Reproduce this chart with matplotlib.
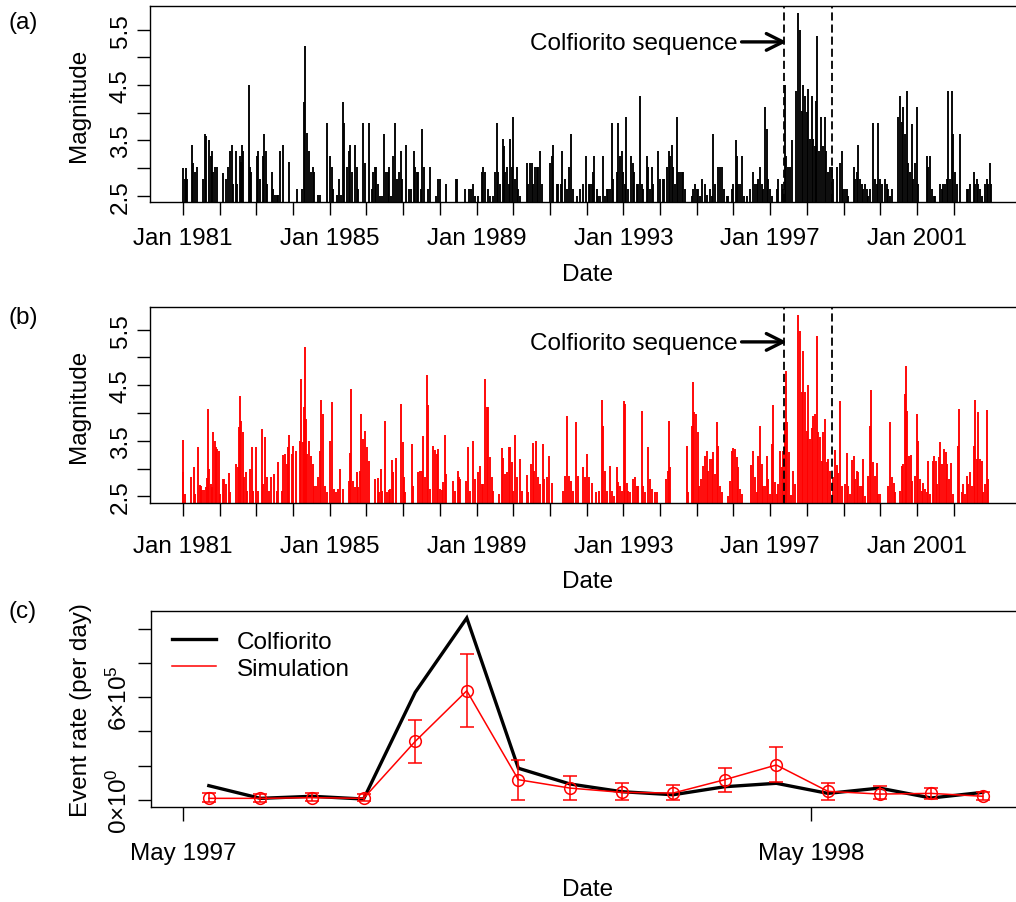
import matplotlib
matplotlib.use('Agg')
import matplotlib.pyplot as plt
import matplotlib.dates as mdates
from datetime import date

plt.rcParams['font.family'] = ['Liberation Sans', 'DejaVu Sans']
plt.rcParams['mathtext.fontset'] = 'custom'
plt.rcParams['mathtext.rm'] = 'Liberation Sans'
plt.rcParams['mathtext.it'] = 'Liberation Sans:italic'
FS = 17.5

# ---------------- data: panel (a) observed catalogue (decimal year, magnitude)
obs_1981_1986 = [
    (1981.00, 3.00), (1981.05, 2.80), (1981.08, 3.00), (1981.12, 2.80), (1981.25, 3.42),
    (1981.28, 3.10), (1981.34, 2.92), (1981.37, 3.01), (1981.55, 2.80), (1981.60, 3.61),
    (1981.63, 3.58), (1981.72, 3.51), (1981.76, 3.22), (1981.80, 3.31), (1981.83, 2.92),
    (1981.87, 3.01), (1981.92, 3.01), (1982.10, 2.91), (1982.17, 2.80), (1982.23, 3.01),
    (1982.28, 3.31), (1982.33, 3.42), (1982.37, 2.71), (1982.44, 3.31), (1982.48, 2.71),
    (1982.54, 3.22), (1982.57, 3.11), (1982.62, 3.42), (1982.64, 3.31), (1982.79, 4.50),
    (1982.83, 3.01), (1982.86, 2.92), (1983.01, 3.22), (1983.05, 3.31), (1983.10, 2.80),
    (1983.19, 3.22), (1983.22, 3.61), (1983.26, 3.31), (1983.30, 2.71), (1983.42, 2.92),
    (1983.46, 2.62), (1983.51, 2.51), (1983.55, 2.51), (1983.60, 2.51), (1983.64, 3.31),
    (1983.72, 3.42), (1983.88, 3.11), (1984.10, 2.62), (1984.24, 2.62), (1984.30, 4.20),
    (1984.32, 5.21), (1984.37, 3.64), (1984.44, 3.31), (1984.49, 2.92), (1984.53, 3.01),
    (1984.58, 2.92), (1984.67, 2.51), (1984.72, 2.51), (1984.93, 3.81), (1985.01, 3.22),
    (1985.05, 3.01), (1985.10, 2.62), (1985.21, 2.51), (1985.25, 2.81), (1985.30, 2.51),
    (1985.37, 4.20), (1985.40, 3.81), (1985.46, 3.01), (1985.51, 3.31), (1985.55, 3.42),
    (1985.60, 2.92), (1985.70, 3.42), (1985.73, 3.01), (1985.78, 2.62), (1985.91, 3.81),
    (1985.96, 3.10), (1986.06, 3.81),
]
obs_1986_1991 = [
    (1986.15, 2.62), (1986.19, 2.92), (1986.23, 3.01), (1986.26, 3.01), (1986.32, 2.71),
    (1986.37, 2.50), (1986.41, 2.50), (1986.49, 3.61), (1986.52, 2.92), (1986.58, 2.92),
    (1986.61, 3.01), (1986.66, 2.50), (1986.73, 3.22), (1986.78, 3.81), (1986.82, 2.80),
    (1986.88, 2.92), (1986.93, 3.31), (1986.98, 2.80), (1987.07, 3.42), (1987.16, 2.62),
    (1987.21, 2.62), (1987.29, 3.31), (1987.33, 3.01), (1987.37, 2.92), (1987.41, 2.92),
    (1987.48, 2.62), (1987.52, 3.70), (1987.57, 3.01), (1987.68, 2.62), (1987.74, 3.01),
    (1987.89, 2.50), (1987.96, 2.80), (1988.00, 2.80), (1988.18, 2.71), (1988.43, 2.80),
    (1988.46, 2.80), (1988.68, 2.62), (1988.80, 2.62), (1988.85, 2.62), (1988.91, 2.71),
    (1988.96, 2.50), (1989.05, 2.50), (1989.14, 2.92), (1989.18, 3.01), (1989.23, 2.92),
    (1989.32, 2.62), (1989.37, 2.50), (1989.46, 2.50), (1989.50, 2.92), (1989.55, 3.81),
    (1989.59, 2.92), (1989.64, 2.71), (1989.71, 3.52), (1989.75, 3.40), (1989.78, 2.92),
    (1989.82, 3.01), (1989.87, 2.71), (1989.90, 3.52), (1989.96, 3.01), (1990.00, 3.92),
    (1990.05, 2.80), (1990.09, 3.01), (1990.14, 2.62), (1990.18, 2.50), (1990.36, 3.10),
    (1990.41, 2.71), (1990.46, 3.10), (1990.50, 3.10), (1990.55, 2.71), (1990.59, 3.01),
    (1990.64, 3.01), (1990.68, 3.01), (1990.73, 3.31), (1990.77, 2.71), (1991.00, 3.10),
    (1991.05, 3.22), (1991.09, 3.42), (1991.18, 2.71), (1991.23, 2.71), (1991.29, 2.71),
    (1991.34, 3.31), (1991.41, 2.80), (1991.45, 2.62), (1991.52, 3.01), (1991.56, 3.61),
    (1991.64, 2.62), (1991.73, 2.50),
]
obs_1991_1997 = [
    (1991.82, 2.62), (1991.91, 2.71), (1991.97, 3.22), (1992.05, 2.71), (1992.09, 2.71),
    (1992.14, 2.71), (1992.18, 2.92), (1992.21, 3.22), (1992.27, 2.62), (1992.32, 2.50),
    (1992.36, 2.50), (1992.45, 3.22), (1992.50, 2.50), (1992.54, 2.62), (1992.59, 2.62),
    (1992.64, 2.62), (1992.68, 3.81), (1992.73, 2.80), (1992.82, 2.92), (1992.86, 3.81),
    (1992.91, 3.22), (1992.95, 3.31), (1993.00, 2.92), (1993.04, 2.71), (1993.08, 3.92),
    (1993.13, 2.62), (1993.21, 3.22), (1993.25, 3.10), (1993.30, 2.92), (1993.36, 2.71),
    (1993.41, 2.71), (1993.45, 4.31), (1993.50, 2.71), (1993.54, 2.62), (1993.63, 3.22),
    (1993.68, 3.01), (1993.73, 2.62), (1993.77, 3.01), (1993.82, 2.71), (1993.95, 3.31),
    (1994.00, 2.80), (1994.07, 2.80), (1994.12, 2.80), (1994.20, 3.01), (1994.24, 3.31),
    (1994.27, 3.22), (1994.32, 3.42), (1994.36, 3.01), (1994.41, 2.71), (1994.45, 3.92),
    (1994.50, 2.92), (1994.54, 2.92), (1994.59, 2.92), (1994.63, 2.92), (1994.68, 2.62),
    (1994.86, 2.50), (1994.91, 2.62), (1994.95, 2.71), (1995.00, 2.62), (1995.04, 2.62),
    (1995.09, 2.50), (1995.15, 2.80), (1995.22, 2.71), (1995.27, 2.51), (1995.36, 2.62),
    (1995.41, 2.50), (1995.45, 3.61), (1995.50, 2.71), (1995.59, 3.01), (1995.63, 3.01),
    (1995.68, 3.01), (1995.74, 2.62), (1995.81, 2.50), (1995.86, 2.50), (1995.95, 2.62),
    (1996.00, 2.71), (1996.06, 3.51), (1996.09, 3.22), (1996.13, 2.71), (1996.18, 2.71),
    (1996.24, 3.22), (1996.29, 2.50), (1996.36, 2.50), (1996.45, 2.62), (1996.52, 2.92),
    (1996.59, 2.71), (1996.63, 2.71), (1996.68, 2.80), (1996.72, 3.01), (1996.77, 2.71),
    (1996.81, 2.62), (1996.86, 4.11), (1996.90, 3.70), (1996.95, 2.80), (1997.00, 2.62),
    (1997.04, 2.50), (1997.18, 2.62), (1997.22, 2.80), (1997.32, 2.71), (1997.36, 2.62),
    (1997.39, 4.50), (1997.43, 3.22), (1997.49, 3.01),
]
obs_1997_2003 = [
    (1997.54, 3.01), (1997.60, 3.51), (1997.70, 4.40), (1997.77, 5.80), (1997.81, 5.50),
    (1997.86, 4.04), (1997.90, 4.50), (1997.95, 4.31), (1997.99, 4.01), (1998.04, 4.43),
    (1998.08, 3.52), (1998.13, 4.31), (1998.18, 3.52), (1998.22, 3.40), (1998.25, 4.22),
    (1998.28, 5.39), (1998.33, 3.31), (1998.38, 3.92), (1998.43, 3.40), (1998.48, 3.92),
    (1998.52, 3.31), (1998.58, 2.92), (1998.63, 3.01), (1998.68, 3.01), (1998.72, 2.80),
    (1998.81, 3.01), (1998.90, 3.10), (1998.95, 3.31), (1998.99, 2.62), (1999.04, 2.62),
    (1999.08, 2.62), (1999.13, 2.50), (1999.27, 3.01), (1999.31, 2.80), (1999.36, 2.92),
    (1999.40, 3.42), (1999.45, 2.80), (1999.49, 2.71), (1999.54, 2.62), (1999.58, 2.71),
    (1999.63, 2.62), (1999.67, 2.50), (1999.72, 2.62), (1999.81, 3.81), (1999.86, 2.80),
    (1999.90, 2.71), (1999.95, 3.81), (1999.99, 2.80), (2000.04, 2.71), (2000.13, 2.80),
    (2000.17, 2.71), (2000.22, 2.62), (2000.26, 2.50), (2000.31, 2.62), (2000.49, 3.92),
    (2000.54, 4.31), (2000.58, 3.83), (2000.63, 4.10), (2000.67, 3.61), (2000.72, 4.40),
    (2000.76, 3.10), (2000.81, 2.92), (2000.86, 3.80), (2000.90, 2.80), (2000.95, 3.10),
    (2000.99, 4.10), (2001.04, 2.71), (2001.26, 3.22), (2001.31, 3.01), (2001.35, 3.22),
    (2001.40, 2.62), (2001.45, 2.50), (2001.49, 2.50), (2001.63, 2.71), (2001.67, 2.62),
    (2001.72, 2.71), (2001.76, 2.71), (2001.81, 2.80), (2001.85, 4.40), (2001.90, 2.80),
    (2001.95, 4.40), (2001.99, 3.61), (2002.04, 2.92), (2002.08, 2.71), (2002.17, 3.61),
    (2002.35, 2.62), (2002.40, 2.62), (2002.44, 2.71), (2002.54, 2.92), (2002.58, 2.71),
    (2002.63, 2.80), (2002.67, 2.71), (2002.72, 2.62), (2002.76, 2.50), (2002.85, 2.71),
    (2002.90, 2.80), (2002.94, 2.71), (2002.99, 3.10), (2003.03, 2.71),
]

# ---------------- data: panel (b) simulated catalogue (decimal year, magnitude)
sim_1981_1986 = [
    (1981.00, 3.51), (1981.01, 2.93), (1981.05, 2.54), (1981.21, 2.85), (1981.30, 3.03),
    (1981.34, 2.55), (1981.40, 3.39), (1981.45, 2.70), (1981.48, 2.69), (1981.53, 2.61),
    (1981.57, 2.61), (1981.62, 2.66), (1981.66, 2.83), (1981.69, 4.07), (1981.72, 2.99),
    (1981.75, 2.72), (1981.78, 2.67), (1981.83, 3.65), (1981.86, 3.49), (1981.90, 3.38),
    (1981.94, 3.35), (1981.97, 3.32), (1982.01, 2.54), (1982.08, 2.81), (1982.13, 2.81),
    (1982.16, 2.72), (1982.24, 2.92), (1982.28, 2.57), (1982.45, 3.08), (1982.49, 3.02),
    (1982.53, 3.74), (1982.56, 4.31), (1982.59, 3.86), (1982.63, 3.65), (1982.66, 2.84),
    (1982.71, 2.94), (1982.75, 2.60), (1982.83, 3.00), (1982.87, 3.39), (1982.92, 2.60),
    (1982.99, 3.39), (1983.04, 2.60), (1983.14, 3.71), (1983.19, 2.72), (1983.24, 3.56),
    (1983.28, 2.84), (1983.33, 2.60), (1983.39, 2.84), (1983.49, 2.91), (1983.55, 2.60),
    (1983.60, 3.11), (1983.69, 2.60), (1983.73, 3.24), (1983.77, 3.26), (1983.83, 3.08),
    (1983.87, 3.38), (1983.90, 3.60), (1983.96, 3.26), (1984.01, 3.41), (1984.07, 3.32),
    (1984.19, 3.50), (1984.22, 4.61), (1984.26, 3.47), (1984.30, 4.10), (1984.32, 5.18),
    (1984.35, 3.89), (1984.39, 3.26), (1984.44, 3.49), (1984.48, 3.23), (1984.53, 3.09),
    (1984.57, 2.69), (1984.62, 2.69), (1984.67, 2.85), (1984.72, 3.32), (1984.76, 4.24),
    (1984.82, 3.98), (1984.87, 2.69), (1984.92, 2.57), (1985.01, 3.50), (1985.05, 4.20),
    (1985.12, 2.63), (1985.17, 2.57), (1985.23, 2.63), (1985.28, 2.99), (1985.35, 2.64),
    (1985.51, 2.78), (1985.55, 3.28), (1985.59, 4.44), (1985.64, 2.78), (1985.69, 2.66),
    (1985.73, 2.94), (1985.78, 2.66), (1985.82, 2.96), (1985.85, 3.99), (1985.91, 3.53),
    (1985.96, 3.67), (1986.01, 3.38), (1986.06, 3.14),
]
sim_1986_1991 = [
    (1986.23, 2.81), (1986.30, 2.83), (1986.34, 2.57), (1986.39, 3.00), (1986.43, 2.60),
    (1986.50, 3.85), (1986.55, 2.57), (1986.60, 2.62), (1986.64, 2.63), (1986.69, 3.15),
    (1986.73, 2.94), (1986.80, 3.19), (1986.94, 4.16), (1986.99, 3.48), (1987.03, 2.84),
    (1987.06, 2.57), (1987.23, 3.44), (1987.28, 2.69), (1987.41, 2.93), (1987.46, 2.96),
    (1987.50, 2.95), (1987.55, 3.59), (1987.59, 2.84), (1987.64, 4.69), (1987.67, 4.15),
    (1987.73, 2.63), (1987.82, 3.40), (1987.87, 3.33), (1987.91, 3.26), (1987.96, 3.35),
    (1988.00, 2.63), (1988.05, 2.61), (1988.09, 2.75), (1988.14, 3.60), (1988.18, 2.90),
    (1988.35, 2.78), (1988.41, 2.60), (1988.48, 2.96), (1988.52, 2.85), (1988.55, 2.81),
    (1988.71, 2.78), (1988.77, 3.38), (1988.82, 2.60), (1988.91, 3.49), (1988.96, 2.81),
    (1989.05, 2.93), (1989.09, 3.05), (1989.14, 2.72), (1989.18, 2.72), (1989.23, 4.61),
    (1989.27, 4.11), (1989.32, 4.11), (1989.36, 3.20), (1989.41, 2.84), (1989.46, 2.60),
    (1989.62, 2.54), (1989.68, 3.37), (1989.73, 3.19), (1989.77, 2.90), (1989.82, 2.93),
    (1989.87, 3.39), (1989.91, 3.38), (1989.96, 3.11), (1990.00, 2.60), (1990.05, 3.61),
    (1990.09, 2.84), (1990.18, 3.17), (1990.23, 2.60), (1990.36, 2.89), (1990.41, 2.57),
    (1990.47, 3.08), (1990.53, 3.46), (1990.57, 2.96), (1990.62, 3.50), (1990.66, 2.84),
    (1990.73, 2.72), (1990.80, 3.45), (1990.85, 2.81), (1990.91, 2.84), (1990.97, 3.22),
    (1991.05, 2.74), (1991.36, 2.60), (1991.41, 2.87), (1991.47, 3.94), (1991.52, 2.87),
    (1991.56, 2.78), (1991.64, 2.60), (1991.71, 3.83), (1991.77, 2.87),
]
sim_1991_1997 = [
    (1991.91, 3.02), (1991.95, 2.84), (1992.00, 3.26), (1992.05, 2.84), (1992.14, 2.74),
    (1992.25, 2.57), (1992.34, 2.60), (1992.41, 4.24), (1992.45, 3.77), (1992.50, 2.96),
    (1992.54, 2.60), (1992.64, 3.04), (1992.68, 2.60), (1992.74, 2.51), (1992.82, 3.02),
    (1992.86, 2.75), (1992.91, 2.68), (1992.95, 2.60), (1993.02, 4.22), (1993.04, 4.16),
    (1993.09, 2.74), (1993.13, 2.60), (1993.18, 2.57), (1993.27, 2.81), (1993.32, 2.84),
    (1993.36, 2.69), (1993.41, 2.69), (1993.50, 4.03), (1993.54, 2.69), (1993.59, 2.57),
    (1993.68, 3.38), (1993.73, 2.81), (1993.77, 2.63), (1993.86, 2.57), (1993.91, 2.57),
    (1994.16, 2.81), (1994.21, 2.96), (1994.24, 3.85), (1994.27, 3.02), (1994.72, 3.40),
    (1994.77, 2.57), (1994.86, 3.77), (1994.89, 4.55), (1994.93, 4.01), (1994.98, 3.98),
    (1995.02, 3.65), (1995.07, 2.69), (1995.11, 2.81), (1995.18, 3.05), (1995.22, 3.22),
    (1995.27, 3.32), (1995.31, 2.96), (1995.36, 3.17), (1995.41, 3.17), (1995.45, 3.30),
    (1995.50, 2.90), (1995.54, 3.83), (1995.59, 3.41), (1995.63, 2.69), (1995.68, 2.57),
    (1995.86, 2.51), (1995.90, 2.78), (1995.95, 3.32), (1995.99, 3.37), (1996.04, 3.35),
    (1996.09, 3.20), (1996.13, 3.02), (1996.18, 2.63), (1996.22, 2.54), (1996.49, 3.06),
    (1996.54, 3.32), (1996.59, 2.84), (1996.63, 2.57), (1996.68, 3.23), (1996.72, 3.77),
    (1996.77, 3.08), (1996.81, 2.69), (1996.86, 2.69), (1996.90, 3.23), (1996.95, 2.81),
    (1997.00, 2.54), (1997.04, 3.44), (1997.09, 4.15), (1997.13, 2.75), (1997.18, 2.54),
    (1997.22, 2.72), (1997.27, 3.32), (1997.31, 3.02), (1997.36, 3.32), (1997.40, 3.83),
    (1997.43, 4.75), (1997.47, 3.83), (1997.50, 3.29),
]
sim_1997_2003 = [
    (1997.56, 2.53), (1997.61, 2.96), (1997.68, 2.72), (1997.77, 5.77), (1997.81, 5.48),
    (1997.86, 4.37), (1997.90, 5.12), (1997.95, 4.37), (1997.99, 3.68), (1998.04, 4.50),
    (1998.08, 3.53), (1998.13, 3.73), (1998.18, 3.95), (1998.22, 3.98), (1998.27, 5.38),
    (1998.31, 3.65), (1998.36, 3.56), (1998.40, 3.14), (1998.45, 3.65), (1998.49, 3.89),
    (1998.54, 3.11), (1998.58, 3.18), (1998.63, 2.96), (1998.72, 2.84), (1998.77, 3.34),
    (1998.81, 3.07), (1998.86, 2.92), (1998.90, 4.22), (1998.95, 2.68), (1999.04, 2.72),
    (1999.08, 3.28), (1999.13, 2.69), (1999.17, 2.54), (1999.22, 3.16), (1999.27, 3.22),
    (1999.31, 2.81), (1999.36, 2.96), (1999.40, 2.93), (1999.45, 2.69), (1999.49, 2.69),
    (1999.54, 3.18), (1999.58, 2.50), (1999.67, 2.86), (1999.72, 3.77), (1999.76, 4.42),
    (1999.81, 3.11), (1999.86, 2.87), (1999.90, 3.10), (1999.95, 2.54), (1999.99, 2.54),
    (2000.22, 2.68), (2000.26, 3.84), (2000.31, 2.84), (2000.36, 2.74), (2000.40, 2.57),
    (2000.54, 2.60), (2000.58, 3.05), (2000.63, 3.08), (2000.67, 4.34), (2000.70, 4.84),
    (2000.74, 4.04), (2000.78, 3.23), (2000.83, 3.25), (2000.87, 2.78), (2000.95, 2.87),
    (2000.99, 3.98), (2001.04, 3.50), (2001.08, 2.81), (2001.13, 2.60), (2001.17, 2.74),
    (2001.22, 2.63), (2001.26, 2.57), (2001.31, 3.13), (2001.35, 2.54), (2001.43, 3.14),
    (2001.47, 3.23), (2001.52, 3.14), (2001.55, 2.72), (2001.60, 3.20), (2001.64, 3.47),
    (2001.69, 3.08), (2001.74, 3.36), (2001.78, 3.29), (2001.83, 3.08), (2001.87, 2.81),
    (2001.92, 3.10), (2001.97, 2.54), (2002.13, 3.41), (2002.15, 4.08), (2002.22, 2.57),
    (2002.26, 2.72), (2002.31, 2.54), (2002.35, 2.86), (2002.40, 2.72), (2002.44, 2.93),
    (2002.49, 2.69), (2002.54, 3.41), (2002.58, 4.24), (2002.63, 3.17), (2002.67, 4.01),
    (2002.72, 3.18), (2002.76, 3.14), (2002.81, 2.57), (2002.85, 2.72), (2002.90, 4.05),
    (2002.94, 2.81),
]

# sequence window (decimal years) marked by dashed lines
seq_window = [1997.376, 1998.676]
tick_years = list(range(1981, 2003))
label_years = [1981, 1985, 1989, 1993, 1997, 2001]

# ---------------- data: panel (c) monthly event rates
bin_dates = ['1997-05-16', '1997-06-15', '1997-07-15', '1997-08-14', '1997-09-13',
             '1997-10-13', '1997-11-12', '1997-12-12', '1998-01-11', '1998-02-10',
             '1998-03-12', '1998-04-11', '1998-05-11', '1998-06-10', '1998-07-10',
             '1998-08-09']
colfiorito_rate = [0.82, 0.08, 0.20, 0.04, 6.28, 10.63, 1.84, 0.92, 0.47, 0.29,
                   0.76, 0.96, 0.37, 0.68, 0.10, 0.43]          # x 1e5
sim_rate = [0.08, 0.08, 0.12, 0.08, 3.41, 6.37, 1.17, 0.68, 0.43, 0.39,
            1.17, 2.03, 0.49, 0.33, 0.37, 0.20]                 # x 1e5
sim_upper = [0.37, 0.33, 0.37, 0.33, 4.66, 8.52, 2.32, 1.40, 0.96, 0.88,
             1.85, 3.06, 0.96, 0.82, 0.68, 0.47]                # x 1e5
sim_lower = [-0.12, -0.12, -0.09, -0.09, 2.15, 4.27, 0.00, -0.02, 0.00, 0.00,
             0.47, 1.02, 0.00, 0.04, 0.04, 0.00]                # x 1e5
rate_ticks = [0, 2, 4, 6, 8, 10]                                # x 1e5
rate_labels = {0: r'$\mathregular{0{\times}10^{0}}$', 6: r'$\mathregular{6{\times}10^{5}}$'}

# ---------------- figure
W, H = 1016, 903
fig = plt.figure(figsize=(W / 100, H / 100), dpi=100)


def px_axes(left, top, right, bottom):
    return fig.add_axes([left / W, 1 - bottom / H, (right - left) / W, (bottom - top) / H])


def style(ax):
    for s in ax.spines.values():
        s.set_linewidth(1.0)
    ax.tick_params(direction='out', length=9.7, width=1.0, labelsize=FS, color='black')
    ax.tick_params(axis='y', labelrotation=90, pad=3.5)
    for lbl in ax.get_yticklabels():
        lbl.set_va('center')


def spike_panel(ax, events, color, ylim, xpad, date_y):
    yrs = [e[0] for grp in events for e in grp]
    mags = [e[1] for grp in events for e in grp]
    ax.vlines(yrs, 0, mags, colors=color, linewidth=1.35)
    ax.set_xlim(1980.101, 2003.943)
    ax.set_ylim(*ylim)
    ax.set_yticks([2.5, 3.0, 3.5, 4.0, 4.5, 5.0, 5.5])
    ax.set_yticklabels(['2.5', '', '3.5', '', '4.5', '', '5.5'])
    ax.set_xticks(tick_years)
    ax.set_xticklabels(['Jan %d' % y if y in label_years else '' for y in tick_years])
    style(ax)
    ax.tick_params(axis='x', pad=xpad)
    for xv in seq_window:
        ax.axvline(xv, color='black', linewidth=1.3, linestyle=(0, (4.5, 2.2)))
    ax.annotate('', xy=(1997.45, 5.28), xytext=(1996.22, 5.28),
                arrowprops=dict(arrowstyle='->,head_length=0.6,head_width=0.3',
                                lw=2.4, color='black', mutation_scale=20,
                                shrinkA=0, shrinkB=0))
    ax.text(1996.12, 5.16, 'Colfiorito sequence', ha='right', va='baseline', fontsize=FS)
    ax.set_xlabel('Date', fontsize=FS)
    ax.xaxis.set_label_coords(0.5, date_y)
    ax.set_ylabel('Magnitude', fontsize=FS)
    ax.yaxis.set_label_coords(-0.0686, 0.5)


axa = px_axes(150, 7, 1025, 203)
spike_panel(axa, [obs_1981_1986, obs_1986_1991, obs_1991_1997, obs_1997_2003],
            'black', (2.386, 5.929), 8.4, -0.311)

axb = px_axes(150, 308.3, 1025, 504)
spike_panel(axb, [sim_1981_1986, sim_1986_1991, sim_1991_1997, sim_1997_2003],
            '#ff0000', (2.379, 5.903), 13.2, -0.342)

# panel (c)
axc = px_axes(150.7, 612.3, 1025, 808.3)
xd = [mdates.date2num(date.fromisoformat(d)) for d in bin_dates]
axc.plot(xd, [v * 1e5 for v in colfiorito_rate], color='black', lw=2.4,
         solid_joinstyle='miter', label='Colfiorito')
yerr_lo = [(s - l) * 1e5 for s, l in zip(sim_rate, sim_lower)]
yerr_hi = [(u - s) * 1e5 for s, u in zip(sim_rate, sim_upper)]
axc.errorbar(xd, [v * 1e5 for v in sim_rate], yerr=[yerr_lo, yerr_hi], color='#ff0000',
             lw=1.1, marker='o', markersize=8.4, markerfacecolor='none',
             markeredgecolor='#ff0000', markeredgewidth=1.1, capsize=5, capthick=1.1,
             elinewidth=1.1)
axc.plot([], [], color='#ff0000', lw=1.1, label='Simulation')
x0 = mdates.date2num(date(1997, 5, 1))
axc.set_xlim(x0 - 18.8, x0 + 489.6)
axc.set_ylim(-0.444e5, 11.02e5)
axc.set_yticks([t * 1e5 for t in rate_ticks])
axc.set_yticklabels([rate_labels.get(t, '') for t in rate_ticks])
axc.set_xticks([mdates.date2num(date(1997, 5, 1)), mdates.date2num(date(1998, 5, 1))])
axc.set_xticklabels(['May 1997', 'May 1998'])
style(axc)
axc.tick_params(axis='x', pad=14.8, length=10.4)
axc.set_xlabel('Date', fontsize=FS)
axc.xaxis.set_label_coords(0.5, -0.362)
axc.set_ylabel('Event rate (per day)', fontsize=FS)
axc.yaxis.set_label_coords(-0.0675, 0.5)
axc.legend(loc='upper left', bbox_to_anchor=(0.0244, 0.90), borderaxespad=0, borderpad=0,
           frameon=False, fontsize=FS, handlelength=1.8, handletextpad=0.85,
           labelspacing=0.2)

fig.text(9 / W, 1 - 22.5 / H, '(a)', ha='left', va='center', fontsize=FS)
fig.text(9 / W, 1 - 318.5 / H, '(b)', ha='left', va='center', fontsize=FS)
fig.text(9 / W, 1 - 612 / H, '(c)', ha='left', va='center', fontsize=FS)

fig.savefig('out.png', dpi=100)
